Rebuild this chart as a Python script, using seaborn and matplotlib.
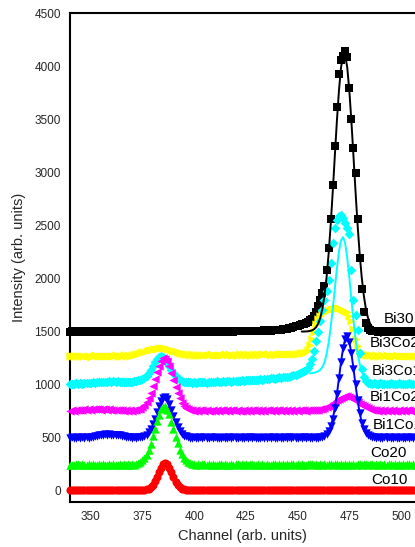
import matplotlib
matplotlib.use("Agg")
import matplotlib.pyplot as plt
import pandas as pd
import seaborn as sns

# ---------------- data ----------------
channels = list(range(340, 511))

co10 = [5, 8, 3, 10, 6, 4, 9, 7, 2, 6, 11, 5, 3, 8, 6, 9, 4, 7, 5,
        8, 3, 6, 10, 5, 7, 4, 9, 6, 3, 8, 5, 10, 7, 4, 7, 9, 10, 14,
        20, 33, 55, 88, 128, 175, 218, 248, 262, 250, 215, 172, 126, 86, 55, 33, 19, 12, 9,
        7, 5, 8, 4, 6, 9, 3, 7, 5, 8, 6, 4, 9, 5, 7, 3, 8, 6, 5,
        7, 4, 9, 6, 3, 8, 5, 7, 10, 4, 6, 8, 5, 3, 9, 6, 7, 4, 8,
        5, 9, 6, 3, 7, 8, 4, 6, 10, 5, 7, 3, 9, 6, 4, 8, 5, 7, 6,
        4, 9, 7, 5, 8, 3, 6, 10, 5, 7, 4, 8, 6, 9, 5, 3, 7, 6, 8,
        5, 9, 4, 7, 6, 8, 3, 10, 5, 7, 6, 4, 9, 5, 8, 6, 3, 7, 5,
        8, 6, 4, 9, 5, 7, 3, 8, 6, 5, 9, 4, 7, 6, 8, 5, 3, 7, 6]

co20 = [240, 246, 243, 250, 247, 244, 249, 241, 246, 250, 243, 247, 245, 241, 248, 244, 250, 246, 242,
        247, 243, 249, 245, 241, 248, 246, 250, 244, 247, 243, 249, 245, 256, 262, 271, 286, 309, 340,
        388, 440, 512, 580, 657, 716, 770, 792, 800, 765, 722, 652, 585, 506, 445, 383, 343, 305, 285,
        270, 262, 255, 250, 246, 249, 244, 247, 251, 243, 248, 245, 250, 246, 242, 249, 247, 244, 250,
        246, 243, 249, 245, 251, 247, 242, 248, 245, 250, 244, 247, 249, 243, 246, 250, 245, 248, 244,
        249, 246, 242, 248, 251, 245, 247, 243, 250, 246, 249, 244, 247, 251, 245, 248, 243, 250, 246,
        244, 249, 247, 251, 245, 248, 243, 250, 246, 249, 244, 248, 252, 245, 247, 250, 243, 249, 246,
        248, 244, 251, 246, 249, 243, 247, 250, 245, 248, 252, 244, 247, 249, 243, 250, 246, 248, 245,
        249, 243, 247, 251, 245, 248, 244, 250, 246, 249, 243, 247, 252, 245, 248, 244, 250, 246, 249]

bi1co10 = [498, 503, 495, 500, 506, 497, 502, 499, 505, 501, 507, 510, 514, 519, 523, 526, 528, 531, 527,
           530, 526, 529, 524, 527, 521, 518, 514, 510, 506, 503, 500, 505, 498, 502, 505, 510, 517, 528,
           549, 581, 625, 679, 740, 799, 848, 878, 885, 863, 821, 764, 703, 646, 597, 561, 535, 520, 512,
           506, 501, 497, 503, 499, 495, 502, 498, 504, 500, 496, 503, 499, 505, 497, 501, 498, 504, 500,
           496, 502, 499, 505, 497, 501, 503, 498, 500, 506, 495, 502, 499, 504, 497, 501, 498, 503, 500,
           497, 504, 499, 502, 496, 501, 505, 498, 500, 503, 497, 502, 499, 504, 498, 501, 503, 499, 502,
           498, 503, 500, 497, 504, 501, 499, 503, 508, 515, 530, 558, 605, 680, 776, 908, 1062, 1210, 1347,
           1430, 1455, 1398, 1300, 1150, 1002, 850, 735, 640, 585, 545, 522, 511, 505, 502, 498, 503, 500, 497,
           502, 499, 504, 498, 501, 505, 497, 500, 503, 499, 496, 502, 500, 504, 498, 501, 497, 503, 500]

bi1co20 = [752, 758, 755, 761, 757, 763, 759, 766, 762, 768, 764, 770, 766, 772, 768, 765, 770, 767, 763,
           766, 761, 764, 759, 762, 757, 760, 755, 758, 753, 757, 754, 759, 760, 766, 773, 786, 805, 834,
           873, 924, 985, 1050, 1118, 1178, 1225, 1250, 1245, 1220, 1174, 1113, 1046, 980, 918, 869, 830, 801, 783,
           770, 763, 758, 754, 757, 752, 756, 760, 754, 758, 751, 755, 759, 753, 757, 750, 756, 759, 753,
           757, 752, 756, 760, 753, 757, 751, 755, 759, 754, 758, 752, 756, 760, 753, 757, 754, 758, 752,
           756, 759, 753, 757, 752, 756, 760, 754, 758, 752, 757, 755, 759, 753, 757, 754, 758, 756, 760,
           755, 759, 757, 761, 758, 762, 760, 766, 771, 778, 786, 797, 809, 823, 838, 853, 866, 878, 886,
           890, 888, 884, 876, 864, 851, 836, 821, 807, 795, 784, 776, 769, 764, 760, 757, 754, 758, 753,
           756, 752, 757, 754, 758, 751, 755, 759, 753, 757, 752, 756, 760, 754, 758, 752, 756, 753, 757]

bi3co10 = [1003, 1008, 1005, 1011, 1007, 1013, 1010, 1016, 1012, 1018, 1015, 1021, 1018, 1024, 1020, 1026, 1023, 1028, 1025,
           1030, 1026, 1031, 1027, 1032, 1028, 1025, 1029, 1024, 1027, 1022, 1026, 1030, 1034, 1039, 1044, 1050, 1062, 1082,
           1108, 1140, 1176, 1210, 1238, 1257, 1265, 1256, 1238, 1208, 1175, 1140, 1106, 1080, 1060, 1046, 1035, 1029, 1025,
           1021, 1025, 1019, 1023, 1018, 1022, 1026, 1020, 1024, 1019, 1023, 1027, 1021, 1025, 1030, 1024, 1028, 1032, 1027,
           1031, 1035, 1029, 1034, 1038, 1033, 1037, 1041, 1036, 1040, 1044, 1039, 1043, 1047, 1042, 1046, 1051, 1047, 1052,
           1056, 1052, 1058, 1062, 1057, 1063, 1067, 1062, 1068, 1073, 1069, 1075, 1080, 1086, 1092, 1099, 1106, 1114, 1124,
           1138, 1160, 1195, 1240, 1320, 1410, 1500, 1600, 1700, 1800, 1880, 1990, 2150, 2330, 2480, 2550, 2590, 2600, 2570,
           2520, 2480, 2420, 2080, 1800, 1660, 1510, 1300, 1150, 1075, 1035, 1018, 1012, 1008, 1014, 1009, 1005, 1011, 1006,
           1010, 1004, 1009, 1013, 1007, 1002, 1008, 1012, 1005, 1009, 1003, 1007, 1011, 1006, 1010, 1004, 1008, 1002, 1006]

bi3co20 = [1266, 1272, 1268, 1274, 1270, 1265, 1271, 1267, 1273, 1269, 1264, 1270, 1275, 1268, 1272, 1266, 1271, 1274, 1269,
           1273, 1268, 1272, 1276, 1270, 1274, 1269, 1275, 1271, 1277, 1273, 1279, 1283, 1287, 1292, 1298, 1304, 1310, 1316,
           1322, 1327, 1332, 1336, 1340, 1343, 1345, 1344, 1342, 1338, 1333, 1327, 1320, 1313, 1306, 1300, 1295, 1291, 1288,
           1285, 1281, 1284, 1279, 1283, 1278, 1282, 1277, 1281, 1276, 1280, 1284, 1279, 1283, 1278, 1282, 1277, 1281, 1285,
           1280, 1284, 1279, 1283, 1278, 1282, 1286, 1281, 1285, 1280, 1284, 1279, 1283, 1287, 1282, 1286, 1281, 1285, 1289,
           1284, 1288, 1283, 1287, 1282, 1286, 1290, 1285, 1289, 1284, 1288, 1292, 1287, 1291, 1286, 1290, 1294, 1297, 1301,
           1310, 1330, 1370, 1430, 1500, 1570, 1620, 1650, 1670, 1685, 1695, 1705, 1712, 1715, 1718, 1720, 1718, 1712, 1705,
           1695, 1680, 1650, 1600, 1520, 1430, 1360, 1315, 1295, 1285, 1280, 1276, 1281, 1277, 1272, 1278, 1274, 1270, 1275,
           1271, 1276, 1272, 1268, 1274, 1270, 1275, 1271, 1267, 1273, 1269, 1274, 1270, 1266, 1272, 1268, 1273, 1269, 1271]

bi30 = [1500, 1502, 1499, 1501, 1500, 1498, 1502, 1500, 1501, 1499, 1500, 1502, 1498, 1501, 1500, 1499, 1502, 1500, 1501,
        1499, 1500, 1502, 1498, 1501, 1500, 1499, 1502, 1500, 1501, 1498, 1500, 1502, 1499, 1501, 1500, 1498, 1502, 1500,
        1501, 1499, 1500, 1502, 1498, 1501, 1500, 1499, 1502, 1500, 1501, 1498, 1500, 1502, 1499, 1501, 1500, 1498, 1502,
        1500, 1501, 1499, 1500, 1502, 1498, 1501, 1500, 1499, 1502, 1500, 1501, 1498, 1500, 1502, 1499, 1501, 1500, 1503,
        1501, 1499, 1502, 1500, 1503, 1501, 1504, 1502, 1505, 1503, 1506, 1504, 1507, 1505, 1508, 1506, 1509, 1507, 1510,
        1508, 1511, 1509, 1512, 1510, 1514, 1512, 1516, 1520, 1524, 1528, 1532, 1537, 1542, 1548, 1554, 1560, 1567, 1575,
        1584, 1594, 1606, 1620, 1645, 1685, 1740, 1800, 1860, 1930, 2080, 2290, 2560, 2880, 3250, 3620, 3930, 4060, 4100,
        4140, 4090, 3800, 3500, 3230, 2990, 2560, 2190, 1900, 1680, 1580, 1535, 1515, 1507, 1503, 1501, 1500, 1502, 1499,
        1501, 1500, 1498, 1502, 1500, 1501, 1499, 1500, 1502, 1498, 1501, 1500, 1499, 1502, 1500, 1501, 1498, 1500, 1502]

# fitted curves drawn as lines
bi30_fit_channels = list(range(452, 493))
bi30_fit = [1500, 1500, 1501, 1502, 1506, 1511, 1523, 1542, 1576, 1631, 1716, 1840, 2011, 2234, 2507, 2821,
            3157, 3486, 3774, 3990, 4105, 4105, 3990, 3774, 3486, 3157, 2821, 2507, 2234, 2011, 1840, 1716,
            1631, 1576, 1542, 1523, 1511, 1506, 1502, 1501, 1500]
bi3co10_fit_channels = list(range(456, 489))
bi3co10_fit = [1105, 1108, 1112, 1118, 1126, 1140, 1165, 1210, 1285, 1395, 1540, 1715, 1905, 2095, 2255, 2360,
               2390, 2330, 2195, 2010, 1805, 1605, 1432, 1295, 1195, 1125, 1080, 1052, 1036, 1026, 1020, 1016, 1013]
bi1co10_fit_channels = list(range(462, 488))
bi1co10_fit = [506, 513, 528, 556, 603, 676, 778, 910, 1061, 1213, 1344, 1428, 1450, 1401, 1296, 1154,
               999, 854, 733, 643, 582, 543, 521, 510, 505, 502]

series_names = ["Bi30", "Bi3Co20", "Bi3Co10", "Bi1Co20", "Bi1Co10", "Co20", "Co10"]
series_values = [bi30, bi3co20, bi3co10, bi1co20, bi1co10, co20, co10]
series_colors = ["#000000", "#FFFF00", "#00FFFF", "#FF00FF", "#0000FF", "#00FF00", "#FF0000"]
series_markers = ["s", ">", "D", "<", "v", "^", "o"]
label_x = [491.8, 485.0, 485.7, 485.0, 486.2, 485.0, 485.7]
label_y = [1618, 1395, 1128, 883, 619, 355, 101]

x_ticks = [350, 375, 400, 425, 450, 475, 500]
y_ticks = [0, 500, 1000, 1500, 2000, 2500, 3000, 3500, 4000, 4500]

for n, v in zip(series_names, series_values):
    if len(v) != len(channels):
        print("LENGTH MISMATCH", n, len(v))

# ---------------- plotting ----------------
sns.set_style("white")
plt.rcParams["font.family"] = ["Liberation Sans", "DejaVu Sans"]

frames = []
for n, v in zip(series_names, series_values):
    frames.append(pd.DataFrame({"channel": channels, "intensity": v, "sample": n}))
df = pd.concat(frames, ignore_index=True)

fig = plt.figure(figsize=(4.15, 5.47), dpi=100)
ax = fig.add_axes([70 / 415, 45.3 / 547, 345 / 415, 488.4 / 547])

sizes = {"s": 26, "D": 24, "o": 34, "^": 36, "v": 36, "<": 36, ">": 36}
for i, (n, c, m) in enumerate(zip(series_names, series_colors, series_markers)):
    sub = df[df["sample"] == n]
    sns.scatterplot(data=sub, x="channel", y="intensity", color=c, marker=m,
                    s=sizes[m], linewidth=0, ax=ax, clip_on=False, zorder=2 + i, legend=False)

fits = [(bi30_fit_channels, bi30_fit, "#000000"),
        (bi3co10_fit_channels, bi3co10_fit, "#00FFFF"),
        (bi1co10_fit_channels, bi1co10_fit, "#0000FF")]
for xs, ys, c in fits:
    sns.lineplot(x=xs, y=ys, color=c, linewidth=1.4, ax=ax, sort=False,
                 estimator=None, zorder=12, legend=False)

for n, lx, ly in zip(series_names, label_x, label_y):
    ax.text(lx, ly, n, fontsize=11, ha="left", va="center", color="black", zorder=20)

ax.set_xlim(340, 506.75)
ax.set_ylim(-104, 4500)
ax.set_xticks(x_ticks)
ax.set_yticks(y_ticks)
ax.tick_params(axis="both", length=0, labelsize=8.5)
ax.tick_params(axis="x", pad=7)
ax.tick_params(axis="y", pad=6.5)
ax.set_xlabel("Channel (arb. units)", fontsize=10.5, labelpad=4)
ax.set_ylabel("Intensity (arb. units)", fontsize=10.5, labelpad=6)
for side in ["left", "bottom", "top"]:
    ax.spines[side].set_linewidth(1.5)
    ax.spines[side].set_color("black")
ax.spines["right"].set_visible(False)

fig.savefig("out.png", dpi=100)
